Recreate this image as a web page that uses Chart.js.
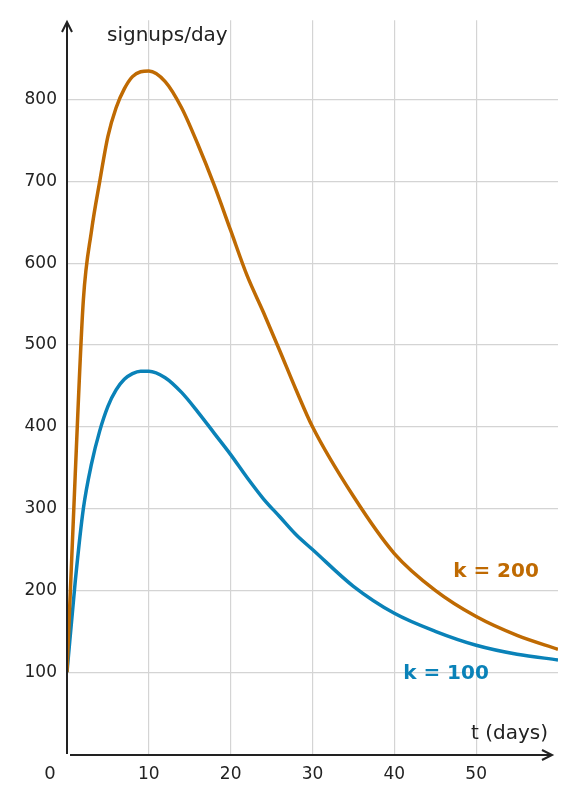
<!DOCTYPE html>
<html><head><meta charset="utf-8">
<script src="https://cdn.jsdelivr.net/npm/chart.js@4"></script>
<style>html,body{margin:0;padding:0;background:#fff}#w{width:576px;height:803px}</style>
</head><body><div id="w"><canvas id="c"></canvas></div>
<script>
const tDays = [0,1,2,3,4,5,6,7,8,9,10,12,14,16,18,20,22,24,26,28,30,35,40,45,50,55,60];
const k200 = [100,340,555,640,700,755,790,813,828,834,835,822,790,745,695,640,585,540,493,445,400,315,245,200,168,145,128];
const k100 = [100,210,300,355,395,425,445,458,465,468,468,460,442,418,392,366,338,312,290,268,250,205,172,150,133,122,115];
const xTicks = [10,20,30,40,50];
const yTicks = [100,200,300,400,500,600,700,800];
const ORANGE = '#bf6a02', BLUE = '#0a82b8';
const F = '"DejaVu Sans", sans-serif';
const pts = a => tDays.map((t,i)=>({x:t,y:a[i]}));
const deco = {
  id:'deco',
  afterDraw(ch){
    const c=ch.ctx, x=ch.scales.x, y=ch.scales.y;
    const x0=x.getPixelForValue(0), y0=y.getPixelForValue(0);
    c.save(); c.strokeStyle='#222'; c.lineWidth=2;
    c.beginPath(); c.moveTo(x0,y0); c.lineTo(x0,22); c.stroke();
    c.beginPath(); c.moveTo(x0-5,32); c.lineTo(x0,22); c.lineTo(x0+5,32); c.stroke();
    c.beginPath(); c.moveTo(x0+3,y0+1); c.lineTo(552,y0+1); c.stroke();
    c.beginPath(); c.moveTo(542,y0-4); c.lineTo(552,y0+1); c.lineTo(542,y0+6); c.stroke();
    c.fillStyle='#222'; c.font='20px '+F; c.textBaseline='middle';
    c.textAlign='left'; c.fillText('signups/day',107,36);
    c.textAlign='right'; c.fillText('t (days)',548,734);
    c.font='18px '+F; c.textAlign='center'; c.fillText('0',50,774);
    c.font='bold 20px '+F; c.textAlign='center';
    c.fillStyle=ORANGE; c.fillText('k = 200',496,572);
    c.fillStyle=BLUE; c.fillText('k = 100',446,674);
    c.restore();
  }
};
new Chart(document.getElementById('c'),{
  type:'scatter',
  data:{datasets:[
    {data:pts(k200),showLine:true,borderColor:ORANGE,borderWidth:3.5,pointRadius:0,cubicInterpolationMode:'monotone'},
    {data:pts(k100),showLine:true,borderColor:BLUE,borderWidth:3.5,pointRadius:0,cubicInterpolationMode:'monotone'}
  ]},
  options:{
    responsive:true,maintainAspectRatio:false,animation:false,
    layout:{padding:{top:18,right:18,left:0,bottom:0}},
    plugins:{legend:{display:false},tooltip:{enabled:false}},
    scales:{
      x:{type:'linear',min:0,max:60,border:{display:false},
        afterFit(s){s.height=49;},
        afterBuildTicks(s){s.ticks=xTicks.map(v=>({value:v}));},
        grid:{color:'#d4d4d4',lineWidth:1.2,drawTicks:false},
        ticks:{color:'#222',font:{family:F,size:17},padding:10}},
      y:{min:0,max:897,border:{display:false},
        afterFit(s){s.width=67;},
        afterBuildTicks(s){s.ticks=yTicks.map(v=>({value:v}));},
        grid:{color:'#d4d4d4',lineWidth:1.2,drawTicks:false},
        ticks:{color:'#222',font:{family:F,size:17},padding:10}}
    }
  },
  plugins:[deco]
});
</script></body></html>
